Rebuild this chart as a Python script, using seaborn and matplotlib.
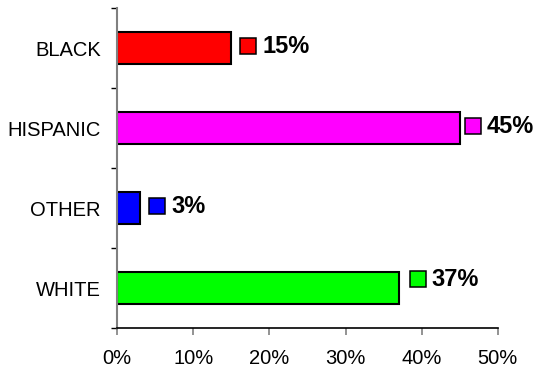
import matplotlib
matplotlib.use("Agg")
import matplotlib.pyplot as plt
import seaborn as sns
import pandas as pd
from matplotlib.transforms import offset_copy

categories = ["BLACK", "HISPANIC", "OTHER", "WHITE"]
values = [15, 45, 3, 37]
colors = ["#FF0000", "#FF00FF", "#0000FF", "#00FF00"]
x_ticks = [0, 10, 20, 30, 40, 50]
x_tick_labels = ["0%", "10%", "20%", "30%", "40%", "50%"]

# layout only (pixel offsets for value labels)
square_dx = [17, 13, 17, 19]
label_dy = [2, 2, 2, 9]

sns.set_style("white")
plt.rcParams["font.family"] = ["Liberation Sans", "DejaVu Sans"]
plt.rcParams["text.color"] = "black"
plt.rcParams["xtick.labelcolor"] = "black"
plt.rcParams["ytick.labelcolor"] = "black"

fig = plt.figure(figsize=(5.34, 3.71), dpi=100)
ax = fig.add_axes([117.3 / 534, 1 - 328.3 / 371, (497.7 - 117.3) / 534, (328.3 - 8.3) / 371])

df = pd.DataFrame({"cat": categories, "val": values})
sns.barplot(data=df, x="val", y="cat", hue="cat", palette=colors, width=0.4,
            saturation=1, edgecolor="black", linewidth=1.5, legend=False, ax=ax, orient="h")

ax.set_xlim(0, 50)
ax.set_ylim(3.5, -0.5)
ax.set_xlabel("")
ax.set_ylabel("")

ax.set_xticks(x_ticks)
ax.set_xticklabels(x_tick_labels, fontsize=14.5, color="black")
ax.tick_params(axis="x", direction="out", length=5, width=1.2, color="#808080", pad=10, bottom=True)

ax.set_yticks(range(len(categories)))
ax.set_yticklabels(categories, fontsize=14.5, color="black")
ax.tick_params(axis="y", which="major", length=0, pad=12)
ax.set_yticks([i - 0.5 for i in range(len(categories) + 1)], minor=True)
ax.tick_params(axis="y", which="minor", direction="out", length=4.5, width=1, color="black", left=True)

for s in ["top", "right"]:
    ax.spines[s].set_visible(False)
ax.spines["left"].set_color("#808080")
ax.spines["left"].set_linewidth(1.5)
ax.spines["bottom"].set_color("black")
ax.spines["bottom"].set_linewidth(1.2)

for i, (v, c) in enumerate(zip(values, colors)):
    tr = offset_copy(ax.transData, fig=fig, x=square_dx[i], y=label_dy[i], units="dots")
    ax.plot([v], [i], marker="s", markersize=11, markerfacecolor=c,
            markeredgecolor="black", markeredgewidth=1.1, transform=tr, clip_on=False)
    ax.annotate(f"{v}%", xy=(v, i), xytext=(square_dx[i] + 14, label_dy[i]),
                textcoords="offset pixels", ha="left", va="center", color="black",
                fontsize=17, fontweight="bold", annotation_clip=False)

fig.savefig("out.png", dpi=100)
